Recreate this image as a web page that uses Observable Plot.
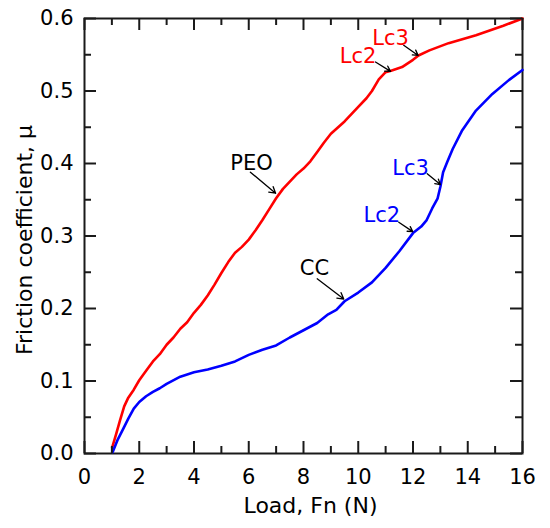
<!DOCTYPE html>
<html>
<head>
<meta charset="utf-8">
<script src="https://cdn.jsdelivr.net/npm/d3@7"></script>
<script src="https://cdn.jsdelivr.net/npm/@observablehq/plot@0.6"></script>
<style>
  html, body { margin: 0; padding: 0; background: white; }
</style>
</head>
<body>
<div id="chart"></div>
<script>
// PEO (red) curve: load (N) and friction coefficient
const peoLoad = [1.01, 1.15, 1.3, 1.45, 1.6, 1.8, 2.0, 2.25, 2.5, 2.75, 3.0, 3.25, 3.5, 3.75, 4.0, 4.25, 4.5, 4.75, 5.0, 5.25, 5.5, 5.75, 6.0, 6.25, 6.5, 6.75, 7.0, 7.25, 7.5, 7.75, 8.0, 8.25, 8.5, 8.75, 9.0, 9.5, 10.0, 10.3, 10.5, 10.75, 11.0, 11.2, 11.6, 12.0, 12.2, 12.6, 13.3, 14.3, 15.3, 16.0];
const peoMu   = [0.008, 0.026, 0.046, 0.065, 0.077, 0.088, 0.101, 0.114, 0.127, 0.137, 0.150, 0.160, 0.172, 0.181, 0.194, 0.205, 0.218, 0.233, 0.249, 0.264, 0.277, 0.285, 0.295, 0.308, 0.322, 0.337, 0.352, 0.365, 0.375, 0.385, 0.393, 0.403, 0.416, 0.429, 0.441, 0.458, 0.478, 0.490, 0.500, 0.516, 0.526, 0.528, 0.533, 0.543, 0.549, 0.556, 0.566, 0.577, 0.590, 0.600];

// CC (blue) curve
const ccLoad = [1.03, 1.2, 1.4, 1.6, 1.8, 2.0, 2.25, 2.5, 2.75, 3.0, 3.5, 4.0, 4.5, 5.0, 5.5, 6.0, 6.5, 7.0, 7.5, 8.0, 8.5, 8.9, 9.2, 9.5, 10.0, 10.5, 11.0, 11.5, 12.0, 12.3, 12.5, 12.7, 12.9, 13.0, 13.1, 13.25, 13.45, 13.8, 14.3, 14.9, 15.5, 16.0];
const ccMu   = [0.002, 0.018, 0.033, 0.048, 0.062, 0.071, 0.079, 0.085, 0.090, 0.096, 0.106, 0.112, 0.116, 0.121, 0.127, 0.136, 0.143, 0.149, 0.160, 0.170, 0.180, 0.192, 0.198, 0.210, 0.222, 0.236, 0.256, 0.279, 0.304, 0.313, 0.322, 0.338, 0.352, 0.368, 0.388, 0.402, 0.420, 0.446, 0.473, 0.496, 0.515, 0.529];

// Axis ticks
const xMajor = [0, 2, 4, 6, 8, 10, 12, 14, 16];
const xMinor = [1, 3, 5, 7, 9, 11, 13, 15];
const yMajor = [0, 0.1, 0.2, 0.3, 0.4, 0.5, 0.6];
const yMinor = [0.05, 0.15, 0.25, 0.35, 0.45, 0.55];

// Annotations
const labelText  = ["PEO", "Lc2", "Lc3", "CC", "Lc2", "Lc3"];
const labelColor = ["black", "red", "red", "black", "blue", "blue"];
const labelX     = [6.10, 9.99, 11.18, 8.40, 10.86, 11.91];
const labelY     = [0.401, 0.548, 0.573, 0.255, 0.329, 0.394];
const arrowX1 = [6.06, 10.63, 11.66, 8.50, 11.48, 12.52];
const arrowY1 = [0.388, 0.540, 0.563, 0.241, 0.319, 0.386];
const arrowX2 = [6.98, 11.18, 12.19, 9.47, 11.99, 13.00];
const arrowY2 = [0.359, 0.527, 0.549, 0.213, 0.306, 0.371];

const peo = peoLoad.map((x, i) => ({x, y: peoMu[i]}));
const cc = ccLoad.map((x, i) => ({x, y: ccMu[i]}));
const labels = labelText.map((t, i) => ({t, c: labelColor[i], x: labelX[i], y: labelY[i]}));
const arrows = arrowX1.map((x1, i) => ({x1, y1: arrowY1[i], x2: arrowX2[i], y2: arrowY2[i]}));

const W = 550, H = 528, ML = 84, MR = 28, MT = 18, MB = 75;
const frameW = W - ML - MR, frameH = H - MT - MB;

const chart = Plot.plot({
  width: W,
  height: H,
  marginLeft: ML,
  marginRight: MR,
  marginTop: MT,
  marginBottom: MB,
  style: {fontFamily: "DejaVu Sans, Verdana, sans-serif", fontSize: "21px"},
  x: {domain: [0, 16], ticks: xMajor, tickSize: 0, tickPadding: 16, tickFormat: d3.format("d"), label: null},
  y: {domain: [0, 0.6], ticks: yMajor, tickSize: 0, tickPadding: 11, tickFormat: d3.format(".1f"), label: null},
  marks: [
    Plot.frame({stroke: "#1a1a1a", strokeWidth: 2}),
    // curves
    Plot.line(peo, {x: "x", y: "y", stroke: "#ff0000", strokeWidth: 2.6}),
    Plot.line(cc, {x: "x", y: "y", stroke: "#0000ff", strokeWidth: 2.6}),
    // axis titles
    Plot.text(["Load, Fn (N)"], {frameAnchor: "bottom", textAnchor: "middle", lineAnchor: "middle", dx: 7, dy: 52, fontSize: 22, fill: "black"}),
    Plot.text(["Friction coefficient, \u03bc"], {frameAnchor: "left", textAnchor: "middle", lineAnchor: "middle", rotate: -90, dx: -60, dy: 4, fontSize: 22, fill: "black"}),
    // annotations
    Plot.arrow(arrows, {x1: "x1", y1: "y1", x2: "x2", y2: "y2", stroke: "black", strokeWidth: 1.3, headLength: 8}),
    Plot.text(labels, {x: "x", y: "y", text: "t", fill: "c", fontSize: 21}),
    // inward ticks: bottom, top, left, right
    Plot.ruleX(xMajor, {x: d => d, stroke: "#1a1a1a", strokeWidth: 2, insetTop: frameH - 12}),
    Plot.ruleX(xMinor, {x: d => d, stroke: "#1a1a1a", strokeWidth: 2, insetTop: frameH - 7}),
    Plot.ruleX(xMajor, {x: d => d, stroke: "#1a1a1a", strokeWidth: 2, insetBottom: frameH - 12}),
    Plot.ruleX(xMinor, {x: d => d, stroke: "#1a1a1a", strokeWidth: 2, insetBottom: frameH - 7}),
    Plot.ruleY(yMajor, {y: d => d, stroke: "#1a1a1a", strokeWidth: 2, insetRight: frameW - 12}),
    Plot.ruleY(yMinor, {y: d => d, stroke: "#1a1a1a", strokeWidth: 2, insetRight: frameW - 7}),
    Plot.ruleY(yMajor, {y: d => d, stroke: "#1a1a1a", strokeWidth: 2, insetLeft: frameW - 12}),
    Plot.ruleY(yMinor, {y: d => d, stroke: "#1a1a1a", strokeWidth: 2, insetLeft: frameW - 7})
  ]
});

document.getElementById("chart").appendChild(chart);
</script>
</body>
</html>
